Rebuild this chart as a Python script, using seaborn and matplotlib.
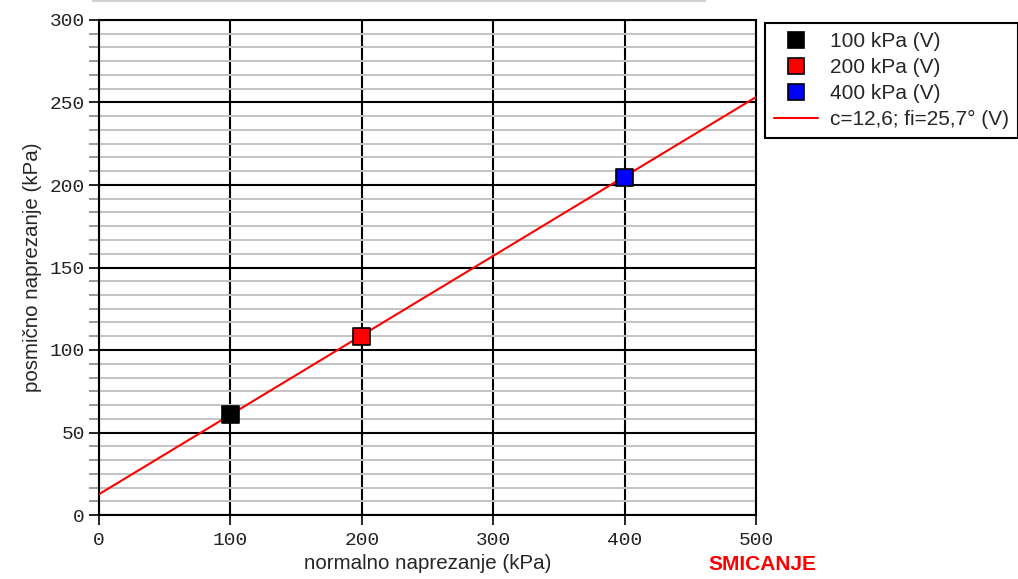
import numpy as np
import pandas as pd
import seaborn as sns
from matplotlib import pyplot as plt
from matplotlib.lines import Line2D
from matplotlib.ticker import MultipleLocator

# test points (normal stress, shear stress)
normal = [100, 200, 400]
shear = [61, 108, 204.5]
labels = ["100 kPa (V)", "200 kPa (V)", "400 kPa (V)"]
colors = ["#000000", "#ff0000", "#0000ff"]

# envelope c=12,6; fi=25,7
line_x = [0, 500]
line_y = [12.6, 253.3]
line_label = "c=12,6; fi=25,7° (V)"

sns.set_style("white")
plt.rcParams['font.family'] = ['Liberation Sans', 'DejaVu Sans']

fig = plt.figure(figsize=(10.18, 5.79), dpi=100)
ax = fig.add_axes([99/1018, 64/579, 657/1018, 495/579])

df = pd.DataFrame({"x": normal, "y": shear, "s": labels})

ax.set_xlim(0, 500)
ax.set_ylim(0, 300)
ax.yaxis.set_minor_locator(MultipleLocator(50/6))
ax.yaxis.set_major_locator(MultipleLocator(50))
ax.xaxis.set_major_locator(MultipleLocator(100))
ax.grid(which='minor', axis='y', color='#c4c4c4', lw=1.4, zorder=0)
ax.grid(which='major', axis='both', color='black', lw=1.5, zorder=1)
ax.set_axisbelow(True)

sns.lineplot(x=line_x, y=line_y, color='red', lw=1.5, ax=ax, zorder=3)
sns.scatterplot(data=df, x="x", y="y", hue="s", palette=colors, marker='s',
                s=150, edgecolor='black', linewidth=1.2, ax=ax, zorder=4,
                legend=False, clip_on=False)

for sp in ax.spines.values():
    sp.set_color('black')
    sp.set_linewidth(1.5)

ax.tick_params(which='major', direction='out', length=7, width=1.2, color='black',
               labelsize=14, labelcolor='#222222', left=True, bottom=True)
ax.tick_params(which='minor', axis='y', direction='out', length=7, width=1.2,
               color='#888888', left=True)
for t in ax.get_xticklabels() + ax.get_yticklabels():
    t.set_family('Liberation Mono')
ax.xaxis.set_tick_params(pad=5)
ax.yaxis.set_tick_params(pad=3)

ax.set_xlabel("normalno naprezanje (kPa)", fontsize=14.8, labelpad=4)
ax.set_ylabel("posmično naprezanje (kPa)", fontsize=14.8, labelpad=6)

handles = [Line2D([], [], marker='s', ls='none', markersize=11, markerfacecolor=c,
                  markeredgecolor='black', markeredgewidth=1.2) for c in colors]
handles.append(Line2D([], [], color='red', lw=1.5))
fig.legend(handles, labels + [line_label], loc='upper left',
           bbox_to_anchor=(765/1018, 1 - 23/579), fontsize=15, frameon=True,
           fancybox=False, edgecolor='black', framealpha=1, borderpad=0.45,
           handlelength=2.1, labelspacing=0.33, handletextpad=0.55,
           borderaxespad=0)
fig.legends[0].get_frame().set_linewidth(1.5)

fig.text(762/1018, 1 - 564/579, "SMICANJE", color='red', fontweight='bold',
         fontsize=15, ha='center', va='center')
fig.add_artist(Line2D([93/1018, 705/1018], [1 - 1/579, 1 - 1/579],
                      color='#d0d0d0', lw=1.5))

plt.savefig('out.png', dpi=100)
